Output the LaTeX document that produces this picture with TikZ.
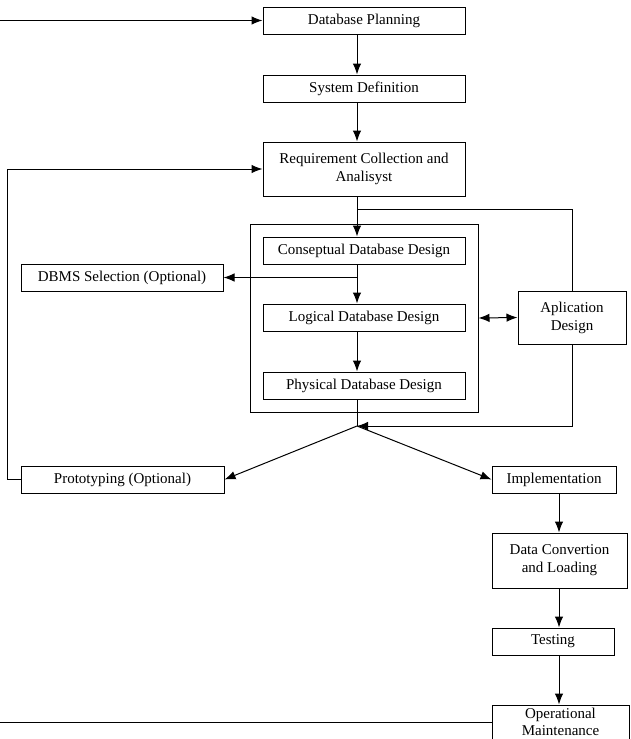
\documentclass[tikz,border=0pt]{standalone}
\usepackage{fontspec}
\setmainfont{Liberation Serif}
\usetikzlibrary{arrows.meta}
\begin{document}
\begin{tikzpicture}[x=1pt,y=-1pt,
  box/.style={draw, line width=1pt, rectangle, inner sep=0pt, align=center,
    font=\fontsize{15}{18}\selectfont},
  conn/.style={line width=1pt},
  arr/.style={conn, -{Latex[length=11pt,width=8.5pt]}},
  darr/.style={conn, {Latex[length=11pt,width=8.5pt]}-{Latex[length=11pt,width=8.5pt]}}]
\useasboundingbox (0,0) rectangle (630,739);
% nodes
\node[box, minimum width=202, minimum height=27] (dp) at (364,20.5) {Database Planning};
\node[box, minimum width=202, minimum height=27] (sd) at (364,88.5) {System Definition};
\node[box, minimum width=202, minimum height=54] (req) at (364,169) {Requirement Collection and\\Analisyst};
\node[box, minimum width=228, minimum height=188] (cont) at (364,318) {};
\node[box, minimum width=202, minimum height=27] (con) at (364,250.5) {Conseptual Database Design};
\node[box, minimum width=202, minimum height=27] (log) at (364,317.5) {Logical Database Design};
\node[box, minimum width=202, minimum height=27] (phy) at (364,385.5) {Physical Database Design};
\node[box, minimum width=202, minimum height=27] (dbms) at (122,277.5) {DBMS Selection (Optional)};
\node[box, minimum width=108, minimum height=53] (apl) at (572,317.5) {Aplication\\Design};
\node[box, minimum width=203, minimum height=27] (proto) at (122.5,479.5) {Prototyping (Optional)};
\node[box, minimum width=124, minimum height=27] (impl) at (554,479.5) {Implementation};
\node[box, minimum width=135, minimum height=55] (data) at (559.5,560.5) {Data Convertion\\and Loading};
\node[box, minimum width=122, minimum height=27] (test) at (553,641.5) {Testing};
\node[box, minimum width=137, minimum height=40,
  label={[font=\fontsize{15}{17}\selectfont, align=center, yshift=3pt]center:Operational\\Maintenance}] (oper) at (560.5,725) {};
% helper coordinates
\coordinate (xa) at (357,0);
\coordinate (xb) at (559,0);
\coordinate (topin) at (0,20.5);
\coordinate (br) at (357,209);
\coordinate (brr) at (572,209);
\coordinate (split) at (357,277.5);
\coordinate (junc) at (357,426);
\coordinate (jr) at (572,426);
\coordinate (pl) at (7,479.5);
\coordinate (ptop) at (7,169);
\coordinate (botout) at (0,722);
% connectors
\draw[arr] (topin) -- (dp.west);
\draw[arr] (dp.south -| xa) -- (sd.north -| xa);
\draw[arr] (sd.south -| xa) -- (req.north -| xa);
\draw[arr] (req.south -| xa) -- (con.north -| xa);
\draw[conn] (br) -- (brr) -- (apl.north);
\draw[arr] (con.south -| xa) -- (log.north -| xa);
\draw[arr] (split) -- (dbms.east);
\draw[arr] (log.south -| xa) -- (phy.north -| xa);
\draw[conn] (phy.south -| xa) -- (junc);
\draw[arr] (apl.south) -- (jr) -- (junc);
\draw[arr] (junc) -- (proto.east);
\draw[arr] (junc) -- (impl.west);
\draw[arr] (proto.west) -- (pl) -- (ptop) -- (req.west);
\draw[darr] (cont.east) -- (apl.west);
\draw[arr] (impl.south -| xb) -- (data.north -| xb);
\draw[arr] (data.south -| xb) -- (test.north -| xb);
\draw[arr] (test.south -| xb) -- (oper.north -| xb);
\draw[conn] (oper.west |- botout) -- (botout);
\end{tikzpicture}
\end{document}
